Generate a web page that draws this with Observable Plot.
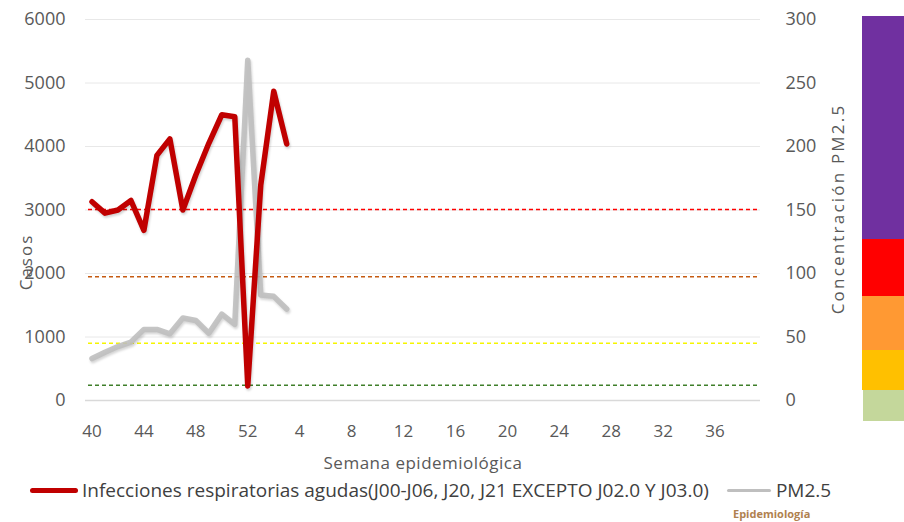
<!DOCTYPE html>
<html>
<head>
<meta charset="utf-8">
<script src="https://cdn.jsdelivr.net/npm/d3@7"></script>
<script src="https://cdn.jsdelivr.net/npm/@observablehq/plot@0.6"></script>
<style>
  html, body { margin: 0; padding: 0; background: #fff; }
  body { width: 904px; height: 522px; position: relative; overflow: hidden; font-family: "Open Sans", sans-serif; }
  #chart { position: absolute; left: 0; top: 0; }
  .legend { position: absolute; top: 477px; left: 30px; display: flex; align-items: center; font-size: 19px; color: #404040; white-space: nowrap; }
  .sw { display: inline-block; height: 5px; border-radius: 3px; }
  .bar { position: absolute; left: 862px; width: 42px; }
  .water { position: absolute; left: 733px; top: 506px; font-size: 11px; font-weight: bold; color: #b0814f; }
  g[aria-label='line'] { filter: drop-shadow(1px 2px 1px rgba(0,0,0,0.18)); }
</style>
</head>
<body>
<div id="chart"></div>
<div class="bar" style="top:16px;height:223px;background:#7030a0"></div>
<div class="bar" style="top:239px;height:57px;background:#ff0000"></div>
<div class="bar" style="top:296px;height:54px;background:#ff9933"></div>
<div class="bar" style="top:350px;height:40px;background:#ffc000"></div>
<div class="bar" style="top:390px;height:31px;left:863px;background:#c4d79b"></div>
<div class="legend">
  <span class="sw" style="width:48px;background:#c00000"></span>
  <span style="margin-left:4px">Infecciones respiratorias agudas(J00-J06, J20, J21 EXCEPTO J02.0 Y J03.0)</span>
  <span class="sw" style="width:44px;height:3px;background:#bfbfbf;margin-left:18px"></span>
  <span style="margin-left:5px">PM2.5</span>
</div>
<div class="water">Epidemiología</div>
<script>
// Epidemiological weeks (week 40 of one year to week 39 of the next)
const weeks = [40,41,42,43,44,45,46,47,48,49,50,51,52,1,2,3,4,5,6,7,8,9,10,11,12,13,14,15,16,17,18,19,20,21,22,23,24,25,26,27,28,29,30,31,32,33,34,35,36,37,38,39];
const xTicks = [40,44,48,52,4,8,12,16,20,24,28,32,36];
const leftTicks = [0,1000,2000,3000,4000,5000,6000];
const rightTicks = [0,50,100,150,200,250,300];

// Series (weeks 40..52, 1..3)
const dataWeeks = [40,41,42,43,44,45,46,47,48,49,50,51,52,1,2,3];
const casos = [3130,2950,3000,3150,2680,3860,4120,3000,3550,4050,4500,4470,230,3390,4870,4040];
const pm25 = [33,38,42.5,46,56,56,52.5,65,63,53,68,60,268,83,82,72];

// PM2.5 air-quality thresholds (right axis units)
const thresholds = [12, 45, 97.4, 150.4];
const thresholdColors = ["#3f7f2a", "#f5f500", "#c55a11", "#ff0000"];

const ratio = 6000 / 300;
const casosData = dataWeeks.map((w, i) => ({week: w, v: casos[i]}));
const pmData = dataWeeks.map((w, i) => ({week: w, v: pm25[i] * ratio}));

const chart = Plot.plot({
  width: 904,
  height: 477,
  marginLeft: 85,
  marginRight: 144,
  marginTop: 19,
  marginBottom: 77,
  style: {fontFamily: "Open Sans, sans-serif", fontSize: "16px", color: "#595959", background: "transparent"},
  x: {type: "band", domain: weeks, padding: 0},
  y: {domain: [0, 6000]},
  marks: [
    Plot.gridY(leftTicks.filter(d => d > 0), {stroke: "#d9d9d9", strokeOpacity: 0.6}),
    Plot.ruleY([0], {stroke: "#d9d9d9", strokeWidth: 1.5}),
    ...thresholds.map((t, i) => Plot.ruleY([t * ratio], {stroke: thresholdColors[i], strokeDasharray: "4,3", strokeWidth: 1.5, insetLeft: 3})),
    Plot.axisY({ticks: leftTicks, tickFormat: d3.format("d"), tickSize: 0, tickPadding: 20, fontSize: 18, fill: "#595959", label: null}),
    Plot.axisY({anchor: "right", ticks: rightTicks.map(d => d * ratio), tickFormat: d => d / ratio, tickSize: 0, tickPadding: 25, fontSize: 18, fill: "#595959", label: null}),
    Plot.axisX({ticks: xTicks, tickSize: 0, tickPadding: 24, fontSize: 17, fill: "#595959", label: "Semana epidemiológica", labelAnchor: "center", labelArrow: "none", labelOffset: 68}),
    Plot.lineY(pmData, {x: "week", y: "v", stroke: "#bfbfbf", strokeWidth: 5.5, strokeOpacity: 0.9, curve: "linear"}),
    Plot.lineY(casosData, {x: "week", y: "v", stroke: "#c00000", strokeWidth: 5.5, curve: "linear"}),
    Plot.text(["Casos"], {frameAnchor: "left", textAnchor: "middle", dx: -59, dy: 52, rotate: -90, fontSize: 17, fill: "#595959", text: d => d}),
    Plot.text(["Concentración PM2.5"], {frameAnchor: "right", textAnchor: "middle", dx: 78, dy: -1, rotate: -90, fontSize: 17, fill: "#595959", text: d => d})
  ]
});
chart.querySelectorAll("text").forEach(t => {
  const s = t.textContent;
  if (s === "Concentración PM2.5") t.setAttribute("letter-spacing", "2.2");
  if (s === "Casos") t.setAttribute("letter-spacing", "2");
  if (s === "Semana epidemiológica") { t.setAttribute("font-size", "17"); t.setAttribute("letter-spacing", "0.5"); }
});
document.getElementById("chart").appendChild(chart);
</script>
</body>
</html>
